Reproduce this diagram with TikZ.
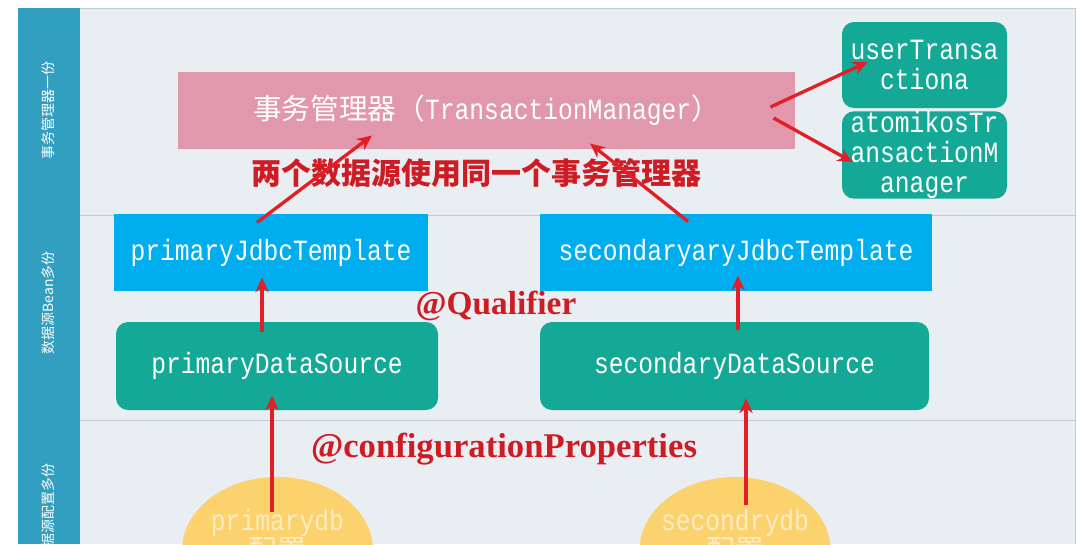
\documentclass[tikz,border=0pt]{standalone}
\usepackage{fontspec}
\setmainfont{Liberation Mono}[FakeStretch=0.84]
\newfontfamily\cjk{Noto Sans CJK SC}
\newfontfamily\anno{Liberation Serif}
\usetikzlibrary{arrows.meta,shapes.geometric}

\definecolor{stripblue}{RGB}{50,158,192}
\definecolor{panelbg}{RGB}{233,238,243}
\definecolor{laneline}{RGB}{185,204,218}
\definecolor{pinkbox}{RGB}{226,152,172}
\definecolor{skyblue}{RGB}{0,174,239}
\definecolor{tealbox}{RGB}{20,168,150}
\definecolor{cfgyellow}{RGB}{252,210,110}
\definecolor{cfgtext}{RGB}{255,236,196}
\definecolor{arrowred}{RGB}{226,30,38}
\definecolor{notered}{RGB}{205,28,36}

\tikzset{every picture/.style={line width=0.75pt}}

\begin{document}
\begin{tikzpicture}[x=0.75pt,y=0.75pt,yscale=-1,xscale=1,
  monotext/.style={text=white, font=\fontsize{22}{22.5}\selectfont, inner sep=0pt, align=center},
  tmbox/.style={monotext, fill=pinkbox, minimum width=462.75pt, minimum height=57.75pt},
  jdbcbox/.style={monotext, fill=skyblue, minimum height=57.75pt},
  dsbox/.style={monotext, fill=tealbox, rounded corners=9pt, minimum height=66pt},
  cfgell/.style={monotext, text=cfgtext, ellipse, fill=cfgyellow, inner xsep=-9pt, minimum width=143.25pt, minimum height=109.5pt},
  lanetext/.style={text=white, font=\cjk\fontsize{10.5}{12}\selectfont, rotate=90, inner sep=0pt},
  redlabel/.style={text=notered, font=\anno\bfseries\fontsize{25}{28}\selectfont, inner sep=0pt},
  redarrow/.style={draw=arrowred, line width=2.5pt, -{Stealth[length=11pt,width=10pt]}}]
\useasboundingbox (0,0) rectangle (1080,544);
\clip (0,0) rectangle (1080,544);

%Lanes
\fill[white] (0,0) rectangle (1080,544);
\fill[panelbg] (80,8) rectangle (1075,544);
\draw[laneline] (18,8) -- (1075,8) -- (1075,544);
\draw[laneline] (80,215) -- (1075,215);
\draw[laneline] (80,420) -- (1075,420);
\fill[stripblue] (18,8) rectangle (80,544);

% Lane titles
\node[lanetext] (lane1) at (48,110) {事务管理器一份};
\node[lanetext] (lane2) at (48,303) {数据源Bean多份};
\node[lanetext] (lane3) at (48,512) {数据源配置多份};

% Transaction manager
\node[tmbox] (tm) at (486.5,110.5) {{\cjk\fontsize{21.5}{22}\selectfont 事务管理器（}TransactionManager{\cjk\fontsize{21.5}{22}\selectfont ）}};
\node[dsbox, minimum width=123.75pt, minimum height=64.5pt] (ut) at (924.5,65) {userTransa\\ctiona};
\node[dsbox, minimum width=123.75pt, minimum height=64.5pt] (atm) at (924.5,155) {atomikosTr\\ansactionM\\anager};

% Beans
\node[jdbcbox, minimum width=235.5pt] (pjt) at (271,252.5) {primaryJdbcTemplate};
\node[jdbcbox, minimum width=294pt] (sjt) at (736,252.5) {secondaryaryJdbcTemplate};
\node[dsbox, minimum width=241.5pt] (pds) at (277,366) {primaryDataSource};
\node[dsbox, minimum width=291.75pt] (sds) at (734.5,366) {secondaryDataSource};

% Config
\node[cfgell] (pdb) at (277.5,550) {primarydb\\{\cjk\fontsize{21.5}{22}\selectfont 配置}\\~};
\node[cfgell] (sdb) at (735,550) {secondrydb\\{\cjk\fontsize{21.5}{22}\selectfont 配置}\\~};

% Text Node
\node[text=notered, font=\cjk\bfseries\fontsize{22.5}{24}\selectfont, inner sep=0pt] (note) at (476,173) {两个数据源使用同一个事务管理器};
% Text Node
\node[redlabel] (qual) at (496,306) {@Qualifier};
% Text Node
\node[redlabel, font=\anno\bfseries\fontsize{26}{28}\selectfont] (conf) at (504,449) {@configurationProperties};

% Arrows
\draw[redarrow] ([shift={(-14,9)}]pjt.north) -- ([shift={(-114.5,-14)}]tm.south);
\draw[redarrow] ([shift={(-48,8)}]sjt.north) -- ([shift={(103.5,-6)}]tm.south);
\draw[redarrow] ([shift={(-25,-3.5)}]tm.east) -- ([shift={(26,-3)}]ut.west);
\draw[redarrow] ([shift={(-22,7.5)}]tm.east) -- ([shift={(11,7)}]atm.west);
\draw[redarrow] ([shift={(-15,10)}]pds.north) -- ([shift={(-9,-14)}]pjt.south);
\draw[redarrow] ([shift={(3.5,8)}]sds.north) -- ([shift={(2,-16)}]sjt.south);
\draw[redarrow] ([shift={(-5.5,35)}]pdb.north) -- ([shift={(-5,-15)}]pds.south);
\draw[redarrow] ([shift={(11,28)}]sdb.north) -- ([shift={(11.5,-12)}]sds.south);

\end{tikzpicture}
\end{document}
